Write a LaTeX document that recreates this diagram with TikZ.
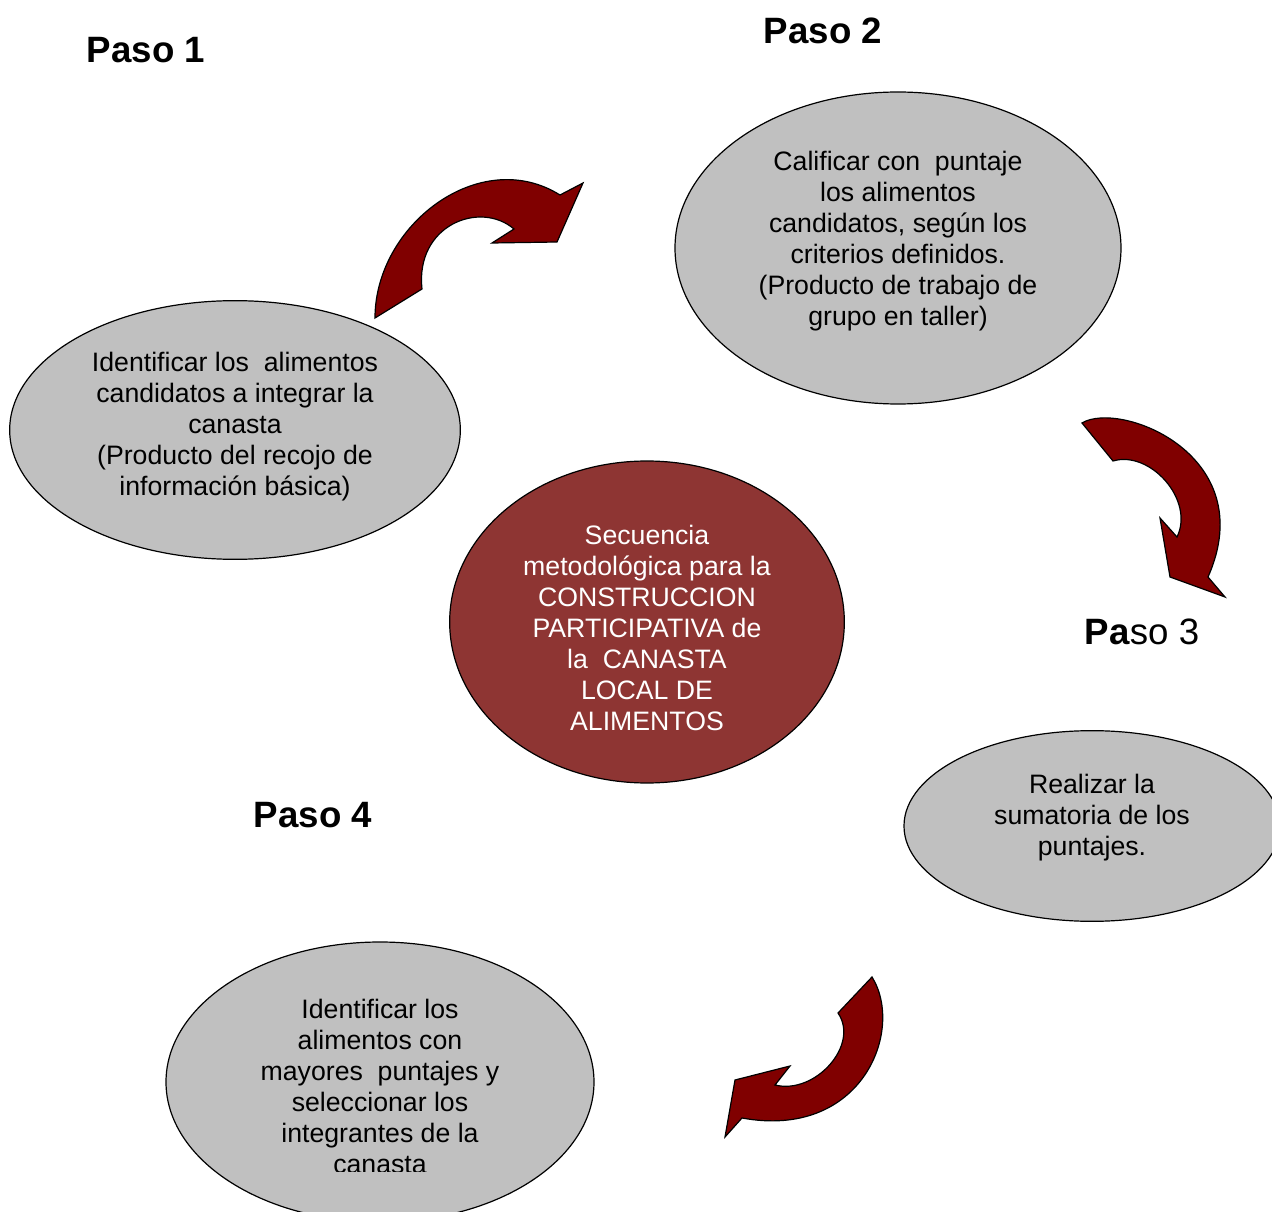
\documentclass[tikz,border=0pt]{standalone}
\usepackage{fontspec}
\setmainfont{Liberation Sans}
\usepackage{tikz}
\usetikzlibrary{shapes.geometric}
\definecolor{ArrowRed}{RGB}{128,0,0}
\definecolor{CoreRed}{RGB}{142,53,51}
\definecolor{StepGray}{RGB}{192,192,192}
\tikzset{
	stepball/.style={ellipse,draw=black,fill=StepGray,line width=0.9pt,inner sep=0pt},
	coreball/.style={ellipse,draw=black,fill=CoreRed,line width=0.9pt,inner sep=0pt},
	steptext/.style={align=center,inner sep=0pt,font=\fontsize{20}{23.25}\selectfont},
	pasotext/.style={inner sep=0pt,font=\fontsize{27.5}{32}\selectfont\bfseries},
	turn/.style={fill=ArrowRed,draw=black,line width=0.9pt,line join=miter},
}
\begin{document}
\begin{tikzpicture}[x=0.75pt,y=-0.75pt]
	\useasboundingbox (0,0) rectangle (1272,1212);
	\clip (0,0) rectangle (1272,1212);
	\foreach \n/\x/\y/\w/\h in {s1/235/430/338/194,s2/898/248/334.5/234,s3/1092/826/282/143,s4/380/1082/321/210}
	\node[stepball,minimum width=\w,minimum height=\h] (\n) at (\x,\y) {};
	\node[coreball,minimum width=296,minimum height=241.5] (core) at (647,622) {};
	\node[steptext] (t1) at (235,427) {Identificar los\ \ alimentos\\candidatos a integrar la\\canasta\\(Producto del recojo de\\información básica)};
	\node[steptext] (t2) at (898,241) {Calificar con\ \ puntaje\\los alimentos\\candidatos, según los\\criterios definidos.\\(Producto de trabajo de\\grupo en taller)};
	\node[steptext] (t3) at (1092,818) {Realizar la\\sumatoria de los\\puntajes.};
	\begin{scope}
		\clip (0,0) rectangle (1272,1171);
		\node[steptext] (t4) at (380,1086) {Identificar los\\alimentos con\\mayores\ \ puntajes y\\seleccionar los\\integrantes de la\\canasta};
	\end{scope}
	\node[steptext,text=white] (tc) at (647,628) {Secuencia\\metodológica para la\\CONSTRUCCION\\PARTICIPATIVA de\\la\ \ CANASTA\\LOCAL DE\\ALIMENTOS};
	\node[pasotext] (p1) at (146,50) {Paso 1};
	\node[pasotext] (p2) at (823,31) {Paso 2};
	\node[pasotext,font=\fontsize{27.5}{32}\selectfont] (p3) at (1142,632) {\textbf{Pa}so 3};
	\node[pasotext] (p4) at (313,815) {Paso 4};
	\draw[turn] (375,318) .. controls (375,225) and (480,145) .. (560,195) -- (583,183) -- (557,242) -- (492,243) -- (514,229) .. controls (480,200) and (415,225) .. (422,289) -- cycle;
	\draw[turn] (1082,423) .. controls (1120,400) and (1262,455) .. (1208,577) -- (1225,597) -- (1170,577) -- (1160,518) -- (1177,537) .. controls (1195,500) and (1150,450) .. (1113,461) -- cycle;
	\draw[turn] (872,977) .. controls (905,1030) and (862,1140) .. (742,1118) -- (725,1137) -- (735,1080) -- (790,1066) -- (775,1085) .. controls (815,1095) and (860,1045) .. (838,1013) -- cycle;
\end{tikzpicture}
\end{document}
